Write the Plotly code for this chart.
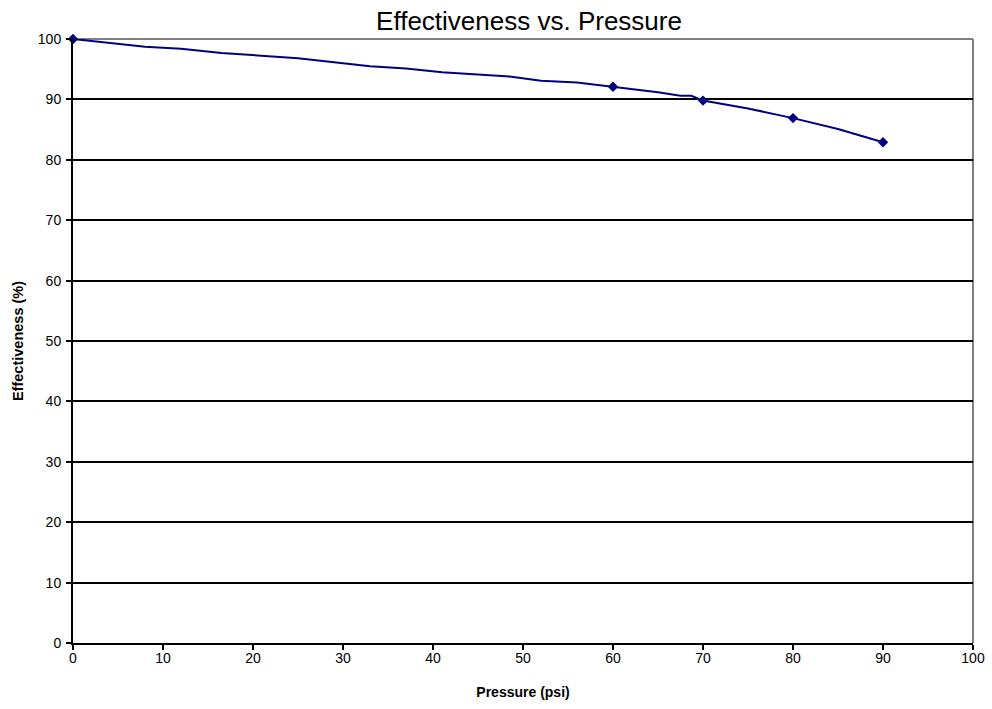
import plotly.graph_objects as go

# Effectiveness curve (psi, %)
pressure_curve = [0, 8, 12, 16.5, 25, 33, 37, 41, 48.5, 52, 56, 60, 65, 67.5, 68.7, 70, 75, 80, 85, 90]
effect_curve = [100, 98.7, 98.4, 97.7, 96.8, 95.5, 95.1, 94.5, 93.8, 93.1, 92.8, 92.1, 91.2, 90.6, 90.6, 89.8, 88.5, 86.9, 85.1, 82.9]

# Measured points
pressure_pts = [0, 60, 70, 80, 90]
effect_pts = [100, 92.1, 89.8, 86.9, 82.9]

x_ticks = list(range(0, 101, 10))
y_ticks = list(range(0, 101, 10))

navy = "#000080"
font_family = "Liberation Sans, Arial, sans-serif"

fig = go.Figure()
fig.add_trace(go.Scatter(
    x=pressure_curve, y=effect_curve, mode="lines",
    line=dict(color=navy, width=2), cliponaxis=False, hoverinfo="skip",
))
fig.add_trace(go.Scatter(
    x=pressure_pts, y=effect_pts, mode="markers",
    marker=dict(symbol="diamond", size=8, color=navy), cliponaxis=False,
))

fig.update_layout(
    width=992, height=709,
    margin=dict(l=73, r=19, t=39, b=66, autoexpand=False),
    paper_bgcolor="white", plot_bgcolor="white",
    showlegend=False,
    font=dict(family=font_family, color="black"),
    title=dict(text="Effectiveness vs. Pressure", x=529 / 992, xanchor="center",
               xref="container", yref="container",
               y=1 - 21 / 709, yanchor="middle",
               font=dict(size=26, family=font_family, color="black")),
    xaxis=dict(
        range=[0, 100], tickvals=x_ticks, ticktext=[str(v) for v in x_ticks],
        showgrid=False, zeroline=False, automargin=False,
        showline=True, linecolor="black", linewidth=2,
        ticks="outside", ticklen=5, tickwidth=2, tickcolor="black",
        tickfont=dict(size=14), ticklabelstandoff=-4,
        title=dict(text="<b>Pressure (psi)</b>", font=dict(size=14), standoff=22),
    ),
    yaxis=dict(
        range=[0, 100], tickvals=y_ticks, ticktext=[str(v) for v in y_ticks],
        showgrid=True, gridcolor="black", gridwidth=1.5, zeroline=False, automargin=False,
        showline=True, linecolor="black", linewidth=2,
        ticks="outside", ticklen=5, tickwidth=2, tickcolor="black",
        tickfont=dict(size=14), ticklabelstandoff=2,
        title=dict(text="<b>Effectiveness (%)</b>", font=dict(size=14.5), standoff=11),
    ),
    shapes=[
        dict(type="line", xref="paper", yref="paper", x0=0, x1=1, y0=1, y1=1,
             line=dict(color="#808080", width=2), layer="below"),
        dict(type="line", xref="paper", yref="paper", x0=1, x1=1, y0=0, y1=1,
             line=dict(color="#808080", width=2), layer="below"),
    ],
)

fig.write_html("out.html")
